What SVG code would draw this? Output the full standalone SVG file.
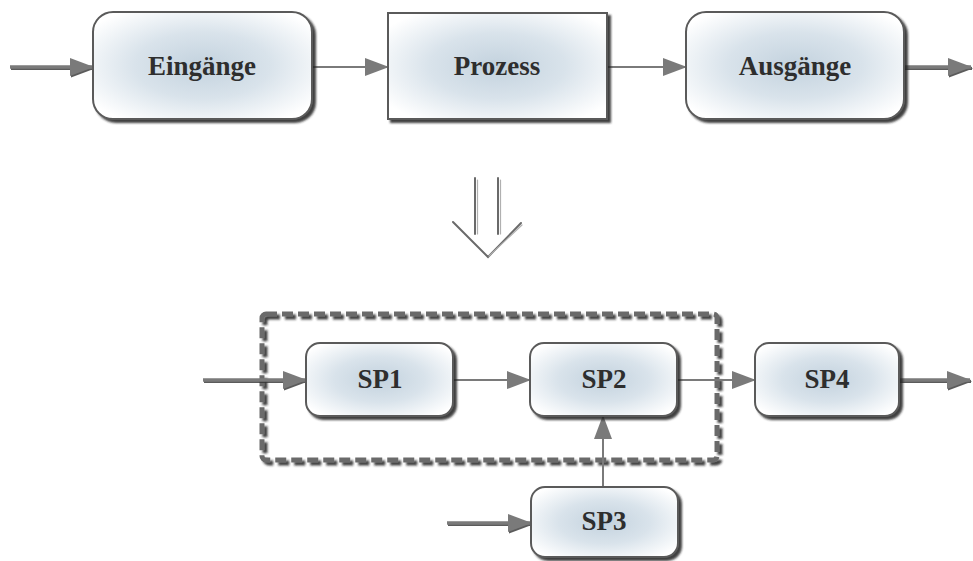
<svg xmlns="http://www.w3.org/2000/svg" width="973" height="561" viewBox="0 0 973 561">
<defs>
<radialGradient id="fill" cx="0.5" cy="0.5" r="0.62">
<stop offset="0" stop-color="#c3d2de"/>
<stop offset="0.5" stop-color="#d9e3eb"/>
<stop offset="1" stop-color="#ffffff"/>
</radialGradient>
<filter id="sh" x="-10%" y="-10%" width="130%" height="140%">
<feDropShadow dx="3" dy="3" stdDeviation="1.2" flood-color="#222" flood-opacity="0.85"/>
</filter>
<marker id="ah" viewBox="0 0 24 18" refX="23" refY="9" markerWidth="24" markerHeight="18" markerUnits="userSpaceOnUse" orient="auto">
<path d="M0,0 L24,9 L0,18 Z" fill="#7a7a7a"/>
</marker>
<marker id="ahs" viewBox="0 0 24 18" refX="23" refY="9" markerWidth="24" markerHeight="18" markerUnits="userSpaceOnUse" orient="auto">
<path d="M0,0 L24,9 L0,18 Z" fill="#333"/>
</marker>
</defs>
<style>
.box{fill:url(#fill);stroke:#5a5a5a;stroke-width:2;filter:url(#sh)}
.lbl{font-weight:bold;font-size:27px;fill:#2e2e2e;text-anchor:middle}
.thin{stroke:#7a7a7a;stroke-width:2;fill:none}
.thick{stroke:#7a7a7a;stroke-width:3.5;fill:none}
.thicksh{stroke:#333;stroke-width:3;fill:none;opacity:0.8}
</style>
<rect width="973" height="561" fill="#fff"/>

<g id="group-box">
<rect x="262" y="314" width="455" height="146" rx="4" fill="none" stroke="#6a6a6a" stroke-width="5" stroke-dasharray="11,5" filter="url(#sh)"/>
</g>

<g id="connectors">
<line class="thicksh" x1="11" y1="68.5" x2="94" y2="68.5" marker-end="url(#ahs)"/>
<line class="thick" x1="10" y1="67" x2="93" y2="67" marker-end="url(#ah)"/>
<line class="thin" x1="312" y1="67" x2="388" y2="67" marker-end="url(#ah)"/>
<line class="thin" x1="607" y1="67" x2="686" y2="67" marker-end="url(#ah)"/>
<line class="thicksh" x1="905" y1="68.5" x2="972" y2="68.5" marker-end="url(#ahs)"/>
<line class="thick" x1="904" y1="67" x2="971" y2="67" marker-end="url(#ah)"/>

<line class="thicksh" x1="204" y1="381.5" x2="307" y2="381.5" marker-end="url(#ahs)"/>
<line class="thick" x1="203" y1="380" x2="306" y2="380" marker-end="url(#ah)"/>
<line class="thin" x1="453" y1="380" x2="530" y2="380" marker-end="url(#ah)"/>
<line class="thin" x1="677" y1="380" x2="755" y2="380" marker-end="url(#ah)"/>
<line class="thicksh" x1="900" y1="381.5" x2="971" y2="381.5" marker-end="url(#ahs)"/>
<line class="thick" x1="899" y1="380" x2="970" y2="380" marker-end="url(#ah)"/>
<line class="thin" x1="603" y1="487" x2="603" y2="416" marker-end="url(#ah)"/>
<line class="thicksh" x1="448" y1="524.5" x2="532" y2="524.5" marker-end="url(#ahs)"/>
<line class="thick" x1="447" y1="523" x2="531" y2="523" marker-end="url(#ah)"/>
</g>

<g id="down-arrow" fill="none" stroke-linecap="round">
<g stroke="#6a6a6a" stroke-width="2">
<line x1="475" y1="178" x2="475" y2="234"/>
<line x1="498" y1="178" x2="498" y2="234"/>
<polyline points="453,222 488,257 521,223"/>
</g>
<g stroke="#b0b0b0" stroke-width="1.2">
<line x1="477.5" y1="180" x2="477.5" y2="234"/>
<line x1="500.5" y1="180" x2="500.5" y2="234"/>
<polyline points="489,256 522,225"/>
</g>
</g>

<g font-family="Liberation Serif, Times New Roman, DejaVu Serif, serif">
<g id="eingaenge">
<rect class="box" x="93" y="12" width="219" height="107" rx="20"/>
<text class="lbl" x="202" y="75">Eingänge</text>
</g>
<g id="prozess">
<rect class="box" x="388" y="13" width="219" height="106"/>
<text class="lbl" x="497" y="75">Prozess</text>
</g>
<g id="ausgaenge">
<rect class="box" x="686" y="12" width="218" height="107" rx="20"/>
<text class="lbl" x="795" y="75">Ausgänge</text>
</g>

<g id="sp1">
<rect class="box" x="306" y="343" width="147" height="73" rx="14"/>
<text class="lbl" x="380" y="388">SP1</text>
</g>
<g id="sp2">
<rect class="box" x="530" y="343" width="147" height="73" rx="14"/>
<text class="lbl" x="604" y="388">SP2</text>
</g>
<g id="sp4">
<rect class="box" x="755" y="343" width="144" height="73" rx="14"/>
<text class="lbl" x="827" y="388">SP4</text>
</g>
<g id="sp3">
<rect class="box" x="531" y="487" width="147" height="70" rx="14"/>
<text class="lbl" x="604" y="530">SP3</text>
</g>
</g>
</svg>
